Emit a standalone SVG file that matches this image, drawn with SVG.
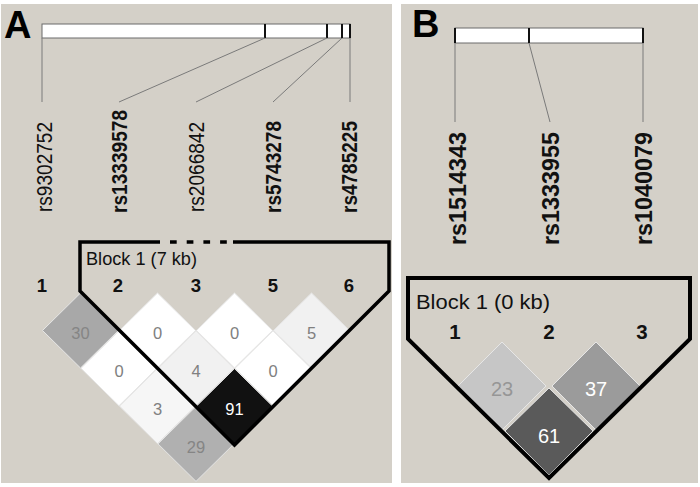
<svg xmlns="http://www.w3.org/2000/svg" width="700" height="487" viewBox="0 0 700 487">
<style>
.panel{fill:#d4d0c8}
.bar{fill:#ffffff;stroke:#6a6a6a;stroke-width:1}
.tick{stroke:#111;stroke-width:2}
.conn{stroke:#7a7a7a;stroke-width:1;fill:none}
.lbl{font-family:"Liberation Sans",Arial,sans-serif;fill:#111}
.big{font-family:"Liberation Sans",Arial,sans-serif;font-weight:bold;fill:#000;font-size:38px}
.num{font-family:"Liberation Sans",Arial,sans-serif;font-weight:bold;fill:#111;text-anchor:middle}
.blk{font-family:"Liberation Sans",Arial,sans-serif;fill:#111}
.dia{stroke:#e6e6e6;stroke-width:1}
.dt{font-family:"Liberation Sans",Arial,sans-serif;text-anchor:middle}
.block{fill:none;stroke:#000;stroke-linejoin:miter}
</style>
<rect width="700" height="487" fill="#ffffff"/>
<rect class="panel" x="1" y="4" width="391" height="479"/>
<rect class="panel" x="401" y="4" width="297" height="479"/>
<text class="big" x="4" y="38">A</text>
<text class="big" x="412" y="37">B</text>

<!-- Panel A gene bar -->
<g id="barA">
<rect class="bar" x="42" y="24" width="308" height="14"/>
<line class="tick" x1="265" y1="24" x2="265" y2="38"/>
<line class="tick" x1="327" y1="24" x2="327" y2="38"/>
<line class="tick" x1="342" y1="24" x2="342" y2="38"/>
<line class="tick" x1="350" y1="24" x2="350" y2="38"/>
</g>
<g id="barB">
<rect class="bar" x="455" y="28" width="188" height="15"/>
<line class="tick" x1="455" y1="28" x2="455" y2="43"/>
<line class="tick" x1="529" y1="28" x2="529" y2="43"/>
<line class="tick" x1="643" y1="28" x2="643" y2="43"/>
</g>

<g id="connectors">
<line class="conn" x1="42" y1="38" x2="42" y2="102"/>
<line class="conn" x1="265" y1="38" x2="119" y2="102"/>
<line class="conn" x1="327" y1="38" x2="196" y2="102"/>
<line class="conn" x1="342" y1="38" x2="273" y2="102"/>
<line class="conn" x1="350" y1="38" x2="350" y2="102"/>
<line class="conn" x1="455" y1="43" x2="455" y2="122"/>
<line class="conn" x1="529" y1="43" x2="550" y2="122"/>
<line class="conn" x1="643" y1="43" x2="643" y2="122"/>
</g>

<!-- SNP labels A -->
<g id="snpA1"><text class="lbl" font-size="22" transform="translate(52,212) rotate(-90)" textLength="90" lengthAdjust="spacingAndGlyphs">rs9302752</text></g>
<g id="snpA2"><text class="lbl" font-size="22" font-weight="bold" transform="translate(127,213) rotate(-90)" textLength="103" lengthAdjust="spacingAndGlyphs">rs13339578</text></g>
<g id="snpA3"><text class="lbl" font-size="22" transform="translate(204,212) rotate(-90)" textLength="90" lengthAdjust="spacingAndGlyphs">rs2066842</text></g>
<g id="snpA4"><text class="lbl" font-size="22" font-weight="bold" transform="translate(281,213) rotate(-90)" textLength="92" lengthAdjust="spacingAndGlyphs">rs5743278</text></g>
<g id="snpA5"><text class="lbl" font-size="22" font-weight="bold" transform="translate(357,213) rotate(-90)" textLength="92" lengthAdjust="spacingAndGlyphs">rs4785225</text></g>

<!-- SNP labels B -->
<g id="snpB1"><text class="lbl" font-size="24.5" font-weight="bold" transform="translate(466,245) rotate(-90)" textLength="113" lengthAdjust="spacingAndGlyphs">rs1514343</text></g>
<g id="snpB2"><text class="lbl" font-size="24.5" font-weight="bold" transform="translate(559,245) rotate(-90)" textLength="113" lengthAdjust="spacingAndGlyphs">rs1333955</text></g>
<g id="snpB3"><text class="lbl" font-size="24.5" font-weight="bold" transform="translate(652,245) rotate(-90)" textLength="113" lengthAdjust="spacingAndGlyphs">rs1040079</text></g>

<!-- marker numbers -->
<g id="numsA" font-size="18.5">
<text class="num" x="42" y="292">1</text>
<text class="num" x="118" y="292">2</text>
<text class="num" x="196" y="292">3</text>
<text class="num" x="273" y="292">5</text>
<text class="num" x="349" y="292">6</text>
</g>
<g id="numsB" font-size="20.5">
<text class="num" x="455" y="339">1</text>
<text class="num" x="549" y="339">2</text>
<text class="num" x="642" y="339">3</text>
</g>

<!-- LD diamonds A -->
<g id="ldA">
<g id="dA12"><path class="dia" fill="#a8a8a8" d="M80.5,293 L118.5,330.5 L80.5,368 L42.5,330.5 Z"/><text class="dt" x="80.5" y="338.5" font-size="16.5" fill="#858585">30</text></g>
<g id="dA23"><path class="dia" fill="#ffffff" d="M157.5,293 L195.5,330.5 L157.5,368 L119.5,330.5 Z"/><text class="dt" x="157.5" y="338.5" font-size="16.5" fill="#808080">0</text></g>
<g id="dA35"><path class="dia" fill="#ffffff" d="M234.5,293 L272.5,330.5 L234.5,368 L196.5,330.5 Z"/><text class="dt" x="234.5" y="338.5" font-size="16.5" fill="#808080">0</text></g>
<g id="dA56"><path class="dia" fill="#f1f1f1" d="M311.5,293 L349.5,330.5 L311.5,368 L273.5,330.5 Z"/><text class="dt" x="311.5" y="338.5" font-size="16.5" fill="#808080">5</text></g>
<g id="dA13"><path class="dia" fill="#ffffff" d="M119,330.8 L157,368.3 L119,405.8 L81,368.3 Z"/><text class="dt" x="119" y="376.5" font-size="16.5" fill="#808080">0</text></g>
<g id="dA25"><path class="dia" fill="#f1f1f1" d="M196,330.8 L234,368.3 L196,405.8 L158,368.3 Z"/><text class="dt" x="196" y="376.5" font-size="16.5" fill="#808080">4</text></g>
<g id="dA36"><path class="dia" fill="#ffffff" d="M273,330.8 L311,368.3 L273,405.8 L235,368.3 Z"/><text class="dt" x="273" y="376.5" font-size="16.5" fill="#808080">0</text></g>
<g id="dA15"><path class="dia" fill="#f6f6f6" d="M157.5,368.6 L195.5,406.1 L157.5,443.6 L119.5,406.1 Z"/><text class="dt" x="157.5" y="414.5" font-size="16.5" fill="#808080">3</text></g>
<g id="dA26"><path class="dia" fill="#111111" d="M234.5,368.6 L272.5,406.1 L234.5,443.6 L196.5,406.1 Z"/><text class="dt" x="234.5" y="414.5" font-size="16.5" fill="#ffffff">91</text></g>
<g id="dA16"><path class="dia" fill="#b0b0b0" d="M196,406.4 L234,443.9 L196,481.4 L158,443.9 Z"/><text class="dt" x="196" y="452.5" font-size="16.5" fill="#858585">29</text></g>
</g>

<!-- Block A -->
<g id="blockA">
<path class="block" stroke-width="3.5" d="M160,242 L80,242 L80,291 L234.5,445 L389,291 L389,242 L233,242"/>
<line class="block" stroke-width="3.5" x1="170" y1="242" x2="227" y2="242" stroke-dasharray="6.7 10"/>
<text class="blk" x="86" y="265" font-size="17.5" textLength="111" lengthAdjust="spacingAndGlyphs">Block 1 (7 kb)</text>
</g>

<!-- LD diamonds B -->
<g id="ldB">
<g id="dB12"><path class="dia" fill="#c6c6c6" d="M502,342 L546,386 L502,430 L458,386 Z"/><text class="dt" x="502" y="396" font-size="20" fill="#969696">23</text></g>
<g id="dB23"><path class="dia" fill="#9b9b9b" d="M596,342 L640,386 L596,430 L552,386 Z"/><text class="dt" x="596" y="396" font-size="20" fill="#ffffff">37</text></g>
<g id="dB13"><path class="dia" fill="#5a5a5a" d="M549,388 L593,431 L549,475 L505,431 Z"/><text class="dt" x="549" y="443" font-size="20" fill="#ffffff">61</text></g>
</g>

<!-- Block B -->
<g id="blockB">
<path class="block" stroke-width="4" d="M408,278 L408,339 L549,478 L690,339 L690,278 Z"/>
<text class="blk" x="416" y="309" font-size="20" textLength="134" lengthAdjust="spacingAndGlyphs">Block 1 (0 kb)</text>
</g>
</svg>
